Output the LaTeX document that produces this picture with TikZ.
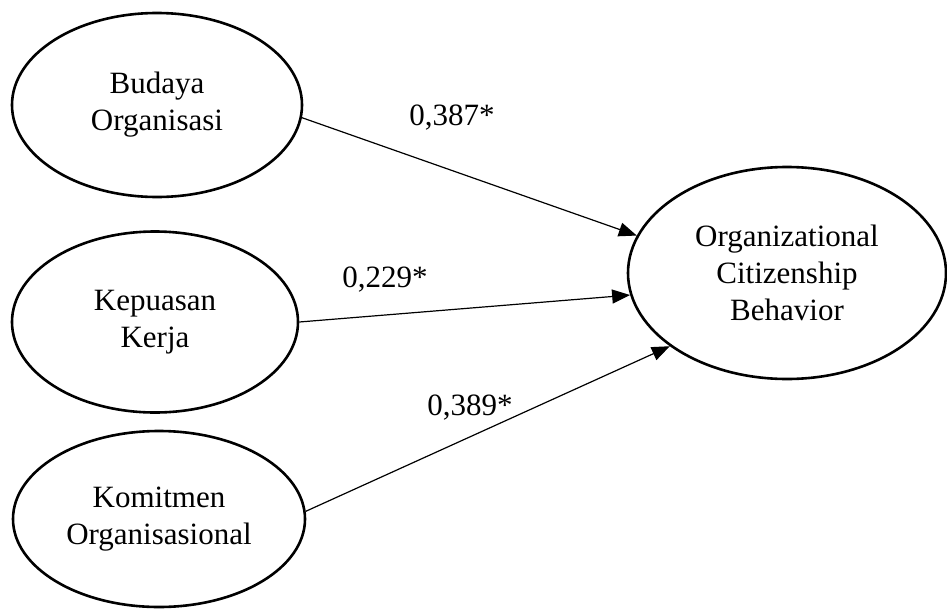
\documentclass[tikz,border=0pt]{standalone}
\usepackage{fontspec}
\setmainfont{Liberation Serif}
\usetikzlibrary{arrows.meta,%
	shapes.geometric}
\tikzset{VarStyle/.style={ellipse, draw, line width=2.6pt, inner sep=0pt,
		align=center, font=\fontsize{31}{37}\selectfont},
	PathStyle/.style={line width=1.2pt, -{Triangle[length=18pt,width=14pt]}},
	CoefStyle/.style={font=\fontsize{31}{37}\selectfont}}
\begin{document}
\begin{tikzpicture}[x=1pt, y=-1pt]
			\useasboundingbox (0,0) rectangle (947,608);
			\node[VarStyle, minimum width=290pt, minimum height=184pt] (BO) at (157,105) {Budaya\\Organisasi};
			\node[VarStyle, minimum width=286pt, minimum height=181pt] (KK) at (155,322) {Kepuasan\\Kerja};
			\node[VarStyle, minimum width=292pt, minimum height=176pt] (KO) at (159,519) {Komitmen\\Organisasional};
			\node[VarStyle, minimum width=318pt, minimum height=212pt] (OCB) at (787,273) {Organizational\\Citizenship\\Behavior};
			
			\draw[PathStyle] (BO.-5) -- (OCB.166);
			\draw[PathStyle] (KK.0) -- (OCB.-172);
			\draw[PathStyle] (KO.3.5) -- (OCB.-148);
			
			\node[CoefStyle] (c1) at (452,118) {0,387*};
			\node[CoefStyle] (c2) at (385,280) {0,229*};
			\node[CoefStyle] (c3) at (470,408) {0,389*};
			\end{tikzpicture}
\end{document}
